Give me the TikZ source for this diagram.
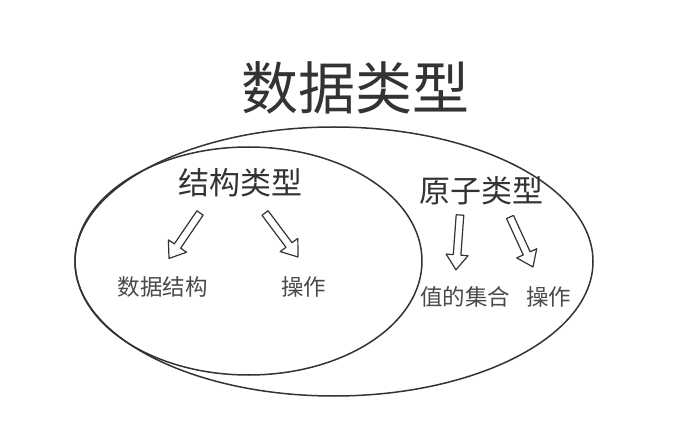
\documentclass[tikz,border=0pt]{standalone}
\usepackage{fontspec}
\newfontfamily\cjk{Noto Sans CJK SC}
\definecolor{ink}{HTML}{333333}
\definecolor{softink}{HTML}{4A4A4A}
\tikzset{
  ring/.style={draw=ink, line width=1.5pt},
  bigtitle/.style={font=\cjk\fontsize{57}{60}\selectfont, text=ink, inner sep=0pt},
  midtitle/.style={font=\cjk\fontsize{31}{34}\selectfont, text=ink, inner sep=0pt},
  subtext/.style={font=\cjk\fontsize{22.5}{25}\selectfont, text=softink, inner sep=0pt},
  arrowline/.style={draw=ink, line width=1.2pt, fill=white, line join=round},
  blockarrow/.pic={
    \draw[arrowline] (0,-3.8) -- (40,-3.8) -- (40,-11) -- (55,0) -- (40,11) -- (40,3.8) -- (0,3.8) -- cycle;
  }
}
\begin{document}
\begin{tikzpicture}[x=1pt,y=1pt]
\useasboundingbox (0,0) rectangle (691,437);
\fill[white] (0,0) rectangle (691,437);
% ellipses
\draw[ring] (334,175.5) ellipse [x radius=259, y radius=134.5];
\draw[ring] (248.5,176) ellipse [x radius=173.5, y radius=114];
% texts
\node[bigtitle] (title) at (355,349) {数据类型};
\node[midtitle] (struct) at (240.5,254) {结构类型};
\node[midtitle] (atom) at (481.5,246.5) {原子类型};
\node[subtext] (ds) at (162.5,150) {数据结构};
\node[subtext] (opl) at (303.5,150) {操作};
\node[subtext] (vals) at (465,140) {值的集合};
\node[subtext] (opr) at (548.5,140) {操作};
% block arrows
\pic[rotate=235.7] (a1) at (200,224) {blockarrow};
\pic[rotate=-53.1] (a2) at (265,224) {blockarrow};
\pic[rotate=-94.2] (a3) at (460,222) {blockarrow};
\pic[rotate=-65.3] (a4) at (510,220) {blockarrow};
\end{tikzpicture}
\end{document}
